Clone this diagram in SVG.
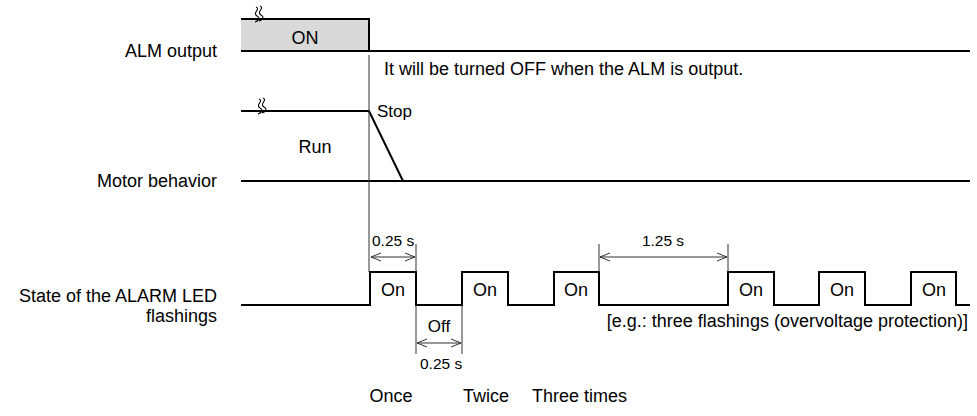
<svg xmlns="http://www.w3.org/2000/svg" width="977" height="416" viewBox="0 0 977 416">
<style>
text{font-family:"Liberation Sans",Arial,sans-serif;font-size:18px;fill:#000}
.dim{font-size:15.5px}
.sig{fill:none;stroke:#000;stroke-width:2}
.thin{fill:none;stroke:#333;stroke-width:1}
.brk{fill:none;stroke:#000;stroke-width:1.1}
.r{text-anchor:end}
.m{text-anchor:middle}
</style>
<defs>
<marker id="ah" viewBox="0 0 10 10" refX="10" refY="5" markerWidth="10" markerHeight="10" markerUnits="userSpaceOnUse" orient="auto-start-reverse">
<path d="M0,1 L10,5 L0,9" fill="none" stroke="#333" stroke-width="1"/>
</marker>
<path id="brk" d="M-3,-7 c5,2 -4,6 1,9 c4,2 1,5 -2,6 M1,-8 c5,2 -4,6 1,9 c4,2 1,5 -2,6" fill="none" stroke="#000" stroke-width="1.1"/>
</defs>
<g id="labels">
<text class="r" x="217" y="57">ALM output</text>
<text class="r" x="217" y="187">Motor behavior</text>
<text class="r" x="217" y="302">State of the ALARM LED</text>
<text class="r" x="217" y="322">flashings</text>
</g>
<g id="alm">
<rect x="241" y="19" width="128" height="32" fill="#d9d9d9" stroke="none"/>
<path class="sig" d="M241,19 H369 V51 M241,51 H970"/>
<use href="#brk" x="259" y="14"/>
<text class="m" x="305" y="44">ON</text>
<text x="384" y="75">It will be turned OFF when the ALM is output.</text>
</g>
<g id="motor">
<path class="sig" d="M241,111 H369 L403,181 M241,181 H970"/>
<use href="#brk" x="262" y="106"/>
<text x="377" y="117" style="font-size:17px">Stop</text>
<text class="m" x="315" y="153">Run</text>
</g>
<g id="led">
<path class="sig" d="M241,305 H370 V272 H416 V305 H462 V272 H508 V305 H554 V272 H599 V305 H728 V272 H774 V305 H819 V272 H865 V305 H911 V272 H956 V305 H970"/>
<text class="m" x="393" y="296">On</text>
<text class="m" x="485" y="296">On</text>
<text class="m" x="576" y="296">On</text>
<text class="m" x="751" y="296">On</text>
<text class="m" x="842" y="296">On</text>
<text class="m" x="934" y="296">On</text>
</g>
<g id="connectors">
<path class="thin" d="M369,55 V272"/>
<path class="thin" d="M416,244 V272 M599,244 V272 M728,244 V272 M416,305 V354 M462,305 V354"/>
<path class="thin" d="M371,257 H415" marker-start="url(#ah)" marker-end="url(#ah)"/>
<path class="thin" d="M600,257 H727" marker-start="url(#ah)" marker-end="url(#ah)"/>
<path class="thin" d="M417,343 H461" marker-start="url(#ah)" marker-end="url(#ah)"/>
</g>
<g id="dims">
<text class="dim" x="372" y="246">0.25 s</text>
<text class="dim m" x="663" y="246">1.25 s</text>
<text class="m" x="439" y="332" style="font-size:17px">Off</text>
<text class="dim" x="420" y="369">0.25 s</text>
</g>
<g id="notes">
<text class="r" x="968" y="327">[e.g.: three flashings (overvoltage protection)]</text>
<text class="m" x="391" y="402">Once</text>
<text class="m" x="486" y="402">Twice</text>
<text x="532" y="402">Three times</text>
</g>
</svg>
